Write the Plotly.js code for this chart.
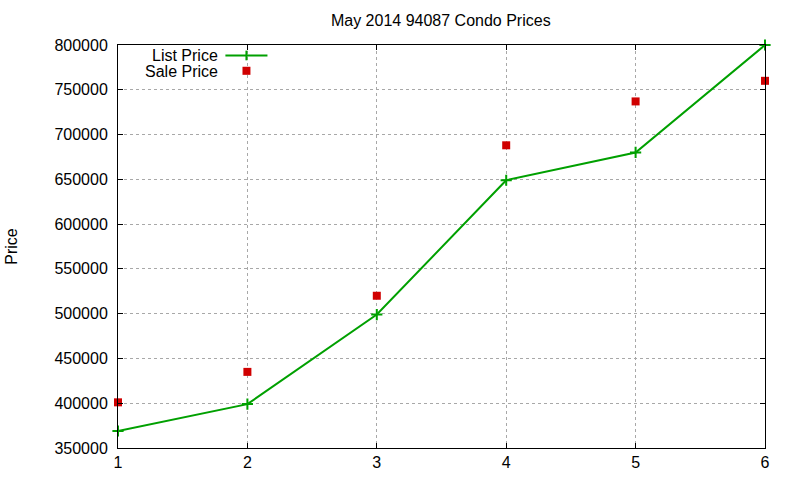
<!DOCTYPE html>
<html>
<head>
<meta charset="utf-8">
<script src="https://cdn.plot.ly/plotly-3.0.1.min.js"></script>
<style>
  html, body { margin: 0; padding: 0; background: #fff; }
  #chart { width: 800px; height: 480px; }
</style>
</head>
<body>
<div id="chart"></div>
<script>
// month index within the listing set
var x_vals = [1, 2, 3, 4, 5, 6];
var list_price = [369000, 399000, 499000, 649000, 680000, 800000];
var sale_price = [401000, 435000, 520000, 688000, 737000, 760000];

var y_ticks = [350000, 400000, 450000, 500000, 550000, 600000, 650000, 700000, 750000, 800000];

var font_main = 'Liberation Sans, Arial, sans-serif';

var listTrace = {
  x: x_vals,
  y: list_price,
  name: 'List Price',
  mode: 'lines+markers',
  type: 'scatter',
  line: {color: '#00a000', width: 2},
  marker: {symbol: 'cross-thin', size: 8, line: {color: '#00a000', width: 2}},
  cliponaxis: false,
  showlegend: false
};

var saleTrace = {
  x: x_vals,
  y: sale_price,
  name: 'Sale Price',
  mode: 'markers',
  type: 'scatter',
  marker: {symbol: 'square', size: 8, color: '#d00000'},
  cliponaxis: false,
  showlegend: false
};

// gnuplot style key: text right aligned, sample on the right
var key = [
  {label: 'List Price', y: 0.974},
  {label: 'Sale Price', y: 0.936}
];

var layout = {
  width: 800,
  height: 480,
  margin: {l: 118, r: 35, t: 45, b: 32},
  paper_bgcolor: '#ffffff',
  plot_bgcolor: '#ffffff',
  font: {family: font_main, size: 16, color: '#000'},
  title: {
    text: 'May 2014 94087 Condo Prices',
    font: {family: font_main, size: 16, color: '#000'},
    x: 0.551, xanchor: 'center', y: 0.958, yanchor: 'middle'
  },
  xaxis: {
    range: [1, 6],
    tickvals: x_vals,
    ticks: 'inside',
    ticklen: 5,
    tickcolor: '#000',
    showline: true,
    linecolor: '#000',
    linewidth: 1,
    mirror: 'ticks',
    showgrid: true,
    gridcolor: '#a8a8a8',
    griddash: 'dot',
    zeroline: false,
    tickfont: {family: font_main, size: 16, color: '#000'}
  },
  yaxis: {
    range: [350000, 800000],
    tickvals: y_ticks,
    ticktext: y_ticks.map(String),
    ticks: 'inside',
    ticklen: 5,
    tickcolor: '#000',
    showline: true,
    linecolor: '#000',
    linewidth: 1,
    mirror: 'ticks',
    showgrid: true,
    gridcolor: '#a8a8a8',
    griddash: 'dot',
    zeroline: false,
    ticklabelstandoff: 6,
    tickfont: {family: font_main, size: 16, color: '#000'},
    title: {text: 'Price', font: {family: font_main, size: 16, color: '#000'}, standoff: 32}
  },
  annotations: key.map(function(k) {
    return {
      xref: 'paper', yref: 'paper',
      x: 0.158, y: k.y,
      xanchor: 'right', yanchor: 'middle',
      height: 14, valign: 'middle',
      text: k.label, showarrow: false,
      font: {family: font_main, size: 16, color: '#000'}
    };
  }),
  shapes: [
    {type: 'line', xref: 'paper', yref: 'paper', x0: 0.166, x1: 0.231, y0: 0.974, y1: 0.974,
     line: {color: '#00a000', width: 2}},
    {type: 'line', xref: 'paper', yref: 'paper', x0: 0.1985, x1: 0.1985, y0: 0.962, y1: 0.986,
     line: {color: '#00a000', width: 2}},
    {type: 'rect', xref: 'paper', yref: 'paper', x0: 0.1924, x1: 0.2047, y0: 0.926, y1: 0.946,
     fillcolor: '#d00000', line: {width: 0}}
  ],
  showlegend: false
};

Plotly.newPlot('chart', [listTrace, saleTrace], layout, {displayModeBar: false, staticPlot: true});
</script>
</body>
</html>
